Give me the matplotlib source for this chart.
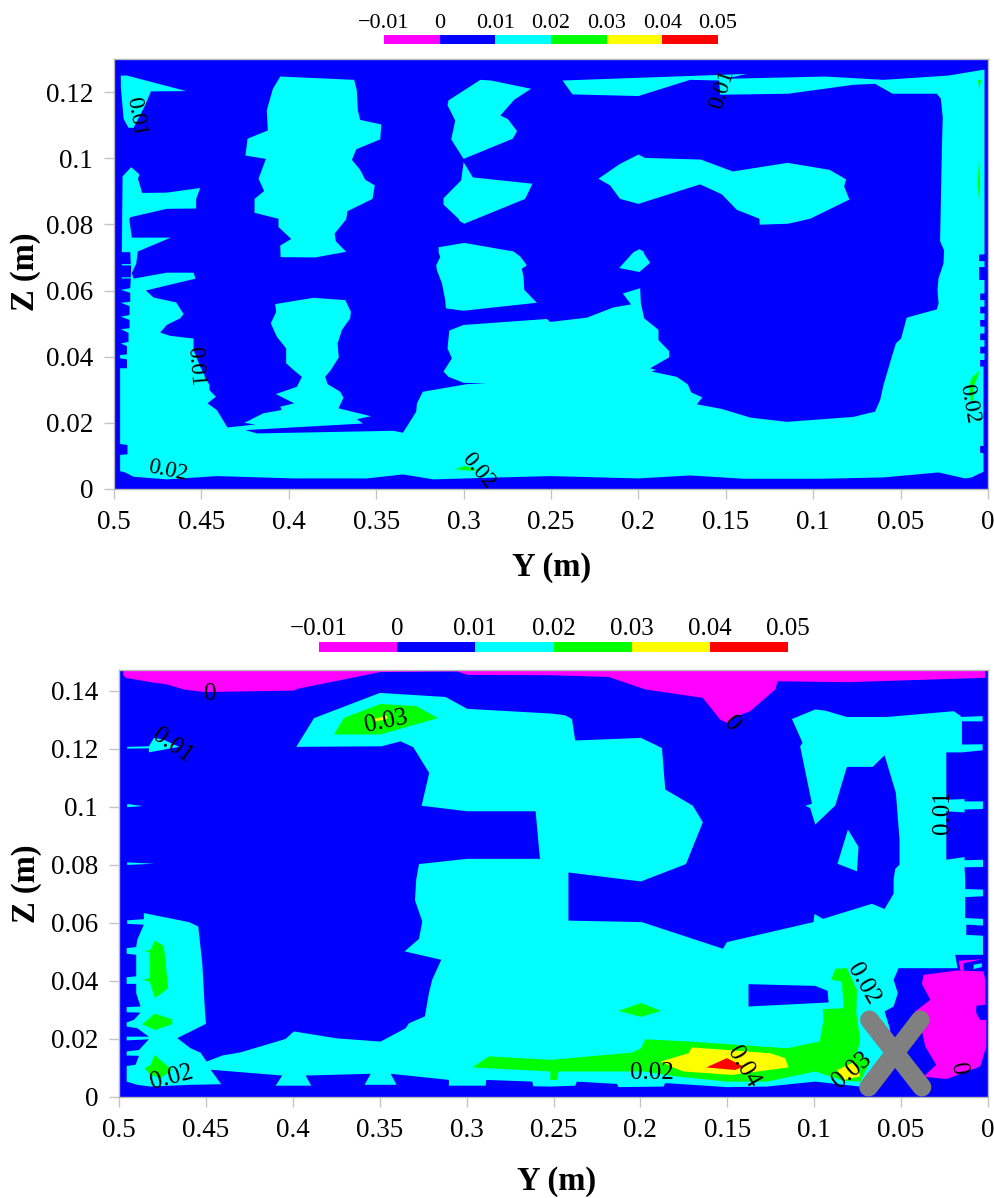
import numpy as np
import matplotlib
matplotlib.use('Agg')
import matplotlib.pyplot as plt
from matplotlib.colors import ListedColormap, BoundaryNorm

plt.rcParams['font.family'] = ['Liberation Serif', 'DejaVu Sans']

levels = [-0.01, 0, 0.01, 0.02, 0.03, 0.04, 0.05]
level_labels = ['\u22120.01', '0', '0.01', '0.02', '0.03', '0.04', '0.05']
band_values = [-0.005, 0.005, 0.015, 0.025, 0.035, 0.045]
colors = ['#ff00ff', '#0000ff', '#00ffff', '#00ff00', '#ffff00', '#ff0000']
MAGENTA, BLUE, CYAN, GREEN, YELLOW, RED = colors

y_ticks = [0.5, 0.45, 0.4, 0.35, 0.3, 0.25, 0.2, 0.15, 0.1, 0.05, 0]
y_tick_labels = ['0.5', '0.45', '0.4', '0.35', '0.3', '0.25', '0.2', '0.15', '0.1', '0.05', '0']
z_ticks_top = [0, 0.02, 0.04, 0.06, 0.08, 0.1, 0.12]
z_labels_top = ['0', '0.02', '0.04', '0.06', '0.08', '0.1', '0.12']
z_ticks_bot = [0, 0.02, 0.04, 0.06, 0.08, 0.1, 0.12, 0.14]
z_labels_bot = ['0', '0.02', '0.04', '0.06', '0.08', '0.1', '0.12', '0.14']

# ---- top plot, contour bands as (Y, Z) outlines
top_corner = [(.4961,.125),(.4926,.125),(.4587,.1203),(.4789,.1202),(.4822,.116),(.4888,.1092),(.4917,.1092),(.4945,.1119),(.4961,.1215)]

top_main = [(.4951,.0945),(.4902,.0973),(.4854,.0951),(.4863,.0938),(.4839,.0895),(.4698,.0896),(.4507,.091),(.453,.0877),(.453,.0848),
    (.4698,.0847),(.4904,.0822),(.4913,.0817),(.4898,.076),(.4675,.076),(.4864,.0718),(.4873,.0681),(.4898,.0653),(.4888,.0636),
    (.4698,.0654),(.4545,.0654),(.4534,.0636),(.4818,.06),(.4774,.0579),(.4644,.0564),(.4602,.0529),(.4621,.0516),(.4698,.0496),
    (.4736,.0473),(.4679,.0463),(.4545,.0455),(.4545,.042),(.4507,.037),(.4454,.0314),(.4454,.0299),(.4417,.0279),(.4465,.0259),
    (.4412,.0239),(.4351,.0186),(.4192,.0195),(.4255,.02),(.4145,.0229),(.404,.0239),(.4049,.0249),(.3969,.0259),(.4074,.0287),
    (.3954,.0309),(.3925,.0339),(.3973,.036),(.4015,.038),(.4015,.0425),(.4068,.046),(.4103,.0501),(.4072,.0536),(.4078,.0559),
    (.3859,.0578),(.3677,.0571),(.3645,.0536),(.3649,.0516),(.3696,.0481),(.3721,.044),(.3714,.0398),(.3759,.036),(.3792,.0339),
    (.3778,.0317),(.3706,.0294),(.3687,.0276),(.3702,.0259),(.3716,.0244),(.353,.022),(.3611,.0211),(.3576,.0198),(.4248,.0178),
    (.4183,.0168),(.3401,.0176),(.3347,.017),(.3271,.0234),(.3267,.0259),(.3233,.0294),(.2981,.0317),(.2871,.0319),(.3,.0321),
    (.3086,.0339),(.3115,.0355),(.3067,.0395),(.3092,.0425),(.3082,.0479),(.3,.0496),(.2524,.0514),(.2505,.0505),(.2295,.0518),
    (.2143,.0549),(.2042,.0558),(.2089,.0591),(.199,.0607),(.1986,.0561),(.1967,.0516),(.1885,.0481),(.1885,.045),(.1824,.0417),
    (.1824,.0398),(.1933,.0365),(.1899,.036),(.1923,.0355),(.178,.0339),(.1717,.0316),(.1698,.0292),(.1634,.0277),(.1666,.0256),
    (.1523,.0242),(.1361,.0216),(.1151,.0203),(.077,.0218),(.0646,.0234),(.0617,.0269),(.0598,.0314),(.0556,.039),(.0527,.044),
    (.0497,.0455),(.0465,.0518),(.0293,.0543),(.0283,.0561),(.0289,.0602),(.0283,.0637),(.0255,.0681),(.0251,.0721),(.0274,.0749),
    (.0264,.1024),(.0259,.1124),(.027,.118),(.0293,.1195),(.0546,.1195),(.0646,.1225),(.077,.1222),(.1142,.1195),(.1532,.1192),
    (.1538,.1235),(.1704,.1237),(.2,.1188),(.2377,.1193),(.2434,.1235),(.1475,.1253),(.138,.1255),(.1504,.124),(.0932,.1247),
    (.0598,.1237),(.0226,.125),(.002,.1268),(.002,.0709),(.0051,.0709),(.0051,.0689),(.002,.0689),(.002,.0671),(.0051,.0671),
    (.0051,.0632),(.002,.0632),(.002,.0591),(.0045,.0591),(.0045,.0571),(.002,.0571),(.002,.0551),(.0045,.0551),(.0045,.0531),
    (.002,.0531),(.002,.0511),(.0045,.0511),(.0045,.0491),(.002,.0491),(.002,.047),(.0045,.047),(.0045,.045),(.002,.045),(.002,.043),
    (.0045,.043),(.0045,.041),(.002,.041),(.002,.039),(.0045,.039),(.0045,.037),(.0026,.037),(.0026,.013),(.0045,.013),(.0045,.011),
    (.0026,.0108),(.0026,.0052),(.0055,.0045),(.0093,.0035),(.0131,.0032),(.0283,.005),(.0598,.0035),(.0951,.0031),(.1399,.0031),
    (.1704,.0041),(.2,.0032),(.2505,.0039),(.2791,.0035),(.3172,.0029),(.3347,.0044),(.3553,.0032),(.3973,.0032),(.4412,.0039),
    (.4698,.0029),(.4888,.0037),(.4936,.005),(.4965,.0054),(.4965,.0103),(.4923,.0105),(.4923,.0133),(.4965,.0136),(.4965,.0365),
    (.4926,.0365),(.4926,.0392),(.4965,.0395),(.4965,.0405),(.4926,.0407),(.4926,.0432),(.4961,.044),(.4917,.0445),(.4917,.0472),
    (.4961,.0483),(.4911,.0486),(.4911,.0511),(.4961,.0521),(.4911,.0526),(.4911,.0553),(.4961,.0563),(.4907,.0566),(.4907,.0593),
    (.4961,.0602),(.4907,.0607),(.4904,.0637),(.4955,.0636),(.4955,.064),(.4904,.064),(.4902,.0676),(.4955,.0676),(.4955,.068),
    (.4904,.068),(.4907,.0716),(.4955,.0716)]

top_blob_a = [(.4049,.1247),(.3626,.1237),(.3611,.1205),(.3605,.1145),(.3592,.1116),(.3471,.1102),(.3477,.1057),(.3614,.1027),(.3639,.0995),
    (.3592,.0965),(.3563,.0935),(.3508,.0918),(.3521,.0877),(.3664,.084),(.3672,.0815),(.3738,.0772),(.3731,.0749),(.3672,.0717),
    (.3849,.07),(.4047,.0701),(.4049,.0736),(.3986,.0756),(.4059,.0792),(.4059,.0817),(.4196,.0835),(.4196,.0877),(.4141,.0901),
    (.4173,.0938),(.4131,.0998),(.4248,.1008),(.4236,.1059),(.412,.1084),(.4126,.1145),(.4091,.121)]
top_blob_b = [(.2904,.1237),(.2843,.1235),(.2614,.121),(.271,.1177),(.279,.1129),(.2748,.1119),(.2694,.1082),(.2719,.1059),(.3,.0998),
    (.3071,.1057),(.3048,.1114),(.3092,.116),(.3086,.1175)]
top_blob_c = [(.3,.0988),(.2947,.0942),(.2606,.0923),(.2648,.0877),(.2996,.0802),(.3023,.081),(.3029,.0817),(.3115,.086),(.3115,.0879),(.3014,.0933)]
top_blob_d = [(.3143,.0731),(.2996,.0744),(.2714,.0718),(.2676,.0703),(.2638,.0676),(.2667,.0666),(.2657,.0641),(.2653,.0602),(.2581,.0563),
    (.3,.0539),(.3101,.0546),(.3105,.0571),(.3124,.0622),(.3153,.0662),(.3157,.0676),(.3134,.0701),(.3143,.0716)]
top_blob_e = [(.2229,.0938),(.2105,.0983),(.2,.1011),(.1962,.1001),(.1643,.0996),(.146,.096),(.1147,.0986),(.0907,.0965),(.0812,.0936),
    (.0823,.0915),(.0793,.0875),(.1018,.0817),(.1142,.0802),(.1307,.0799),(.1307,.0817),(.1437,.0844),(.1523,.0891),(.1647,.0921),
    (.2,.0862),(.2105,.0877),(.2162,.0918)]
top_blob_f = [(.211,.0668),(.2028,.0716),(.1994,.0725),(.1971,.0718),(.1965,.0709),(.1933,.0684),(.1994,.0656)]

top_green_a = [(.0058,.1237),(.0041,.1237),(.0049,.1205)]
top_green_b = [(.0051,.0998),(.0045,.0923),(.0051,.0872),(.006,.0923)]
top_green_c = [(.0049,.0357),(.0093,.0337),(.0106,.0314),(.0098,.0264),(.0087,.0264),(.0079,.0314),(.0058,.0341)]
top_green_d = [(.3048,.006),(.2991,.007),(.2915,.0057),(.2962,.0055)]

top_labels = [('0.01', .4873, .1126, -80), ('0.01', .1522, .1208, 72), ('0.01', .4536, .0371, -85),
              ('0.02', .469, .0054, -12), ('0.02', .2917, .0054, -50), ('0.02', .0109, .0257, -80)]

# ---- bottom plot
bot_roof = [(.4976,.1476),(.4976,.1456),(.4962,.1445),(.4818,.143),(.4722,.1422),(.4627,.1405),(.4511,.1396),(.3994,.1401),(.3974,.1407),
    (.3495,.1465),(.3054,.1467),(.2996,.1455),(.2517,.1454),(.2183,.1448),(.1972,.1405),(.1641,.1376),(.1541,.1301),(.1493,.1287),
    (.1468,.1307),(.1368,.133),(.1224,.1405),(.1211,.1433),(.0812,.143),(.0016,.1445),(.0016,.1476)]

bot_main = [(.398,.1207),(.3878,.1306),(.3499,.1393),(.3121,.1379),(.2996,.1338),(.2517,.1322),(.2433,.1316),(.2394,.1303),(.2375,.1229),
    (.1997,.1238),(.1876,.1203),(.1857,.106),(.1698,.1004),(.1641,.0947),(.1738,.0803),(.1997,.0743),(.2414,.0774),(.2414,.0608),
    (.1992,.0603),(.1525,.0511),(.1502,.0534),(.1004,.0603),(.0998,.0631),(.095,.0614),(.0668,.0666),(.0595,.0648),(.0543,.0701),
    (.0543,.0749),(.0534,.0786),(.0509,.0801),(.0509,.0887),(.053,.1048),(.0595,.1178),(.0664,.1138),(.0812,.1138),(.0879,.1005),
    (.0994,.0939),(.1023,.0996),(.1052,.1004),(.1013,.1011),(.1081,.1209),(.1067,.1221),(.1128,.1303),(.0994,.1336),(.0937,.1332),
    (.0812,.131),(.0582,.131),(.0198,.133),(.016,.1315),(.0154,.131),(.0031,.1313),(.0031,.1295),(.015,.1295),(.015,.1215),(.0031,.1216),
    (.0031,.1195),(.015,.1188),(.024,.1188),(.024,.1025),(.0135,.1027),(.0135,.1019),(.0029,.1019),(.0029,.0993),(.0135,.0991),
    (.0135,.0981),(.024,.0985),(.024,.0818),(.0135,.0827),(.0135,.0816),(.0029,.0818),(.0029,.0793),(.0135,.0792),(.0131,.0749),
    (.0131,.0717),(.0029,.0715),(.0029,.0692),(.0131,.0689),(.0131,.0617),(.0029,.0614),(.0029,.0591),(.0125,.0594),(.0125,.0559),
    (.0029,.0556),(.0029,.049),(.0189,.049),(.0175,.0444),(.0515,.0444),(.0543,.0404),(.0519,.0358),(.0543,.0312),(.0595,.0295),
    (.0563,.0232),(.0563,.0174),(.0601,.0059),(.0697,.0036),(.0735,.0036),(.0994,.0053),(.1272,.0036),(.1502,.0034),(.1857,.0048),
    (.1867,.0036),(.2126,.0034),(.2135,.0045),(.2366,.0053),(.2375,.0039),(.2519,.0036),(.2616,.0037),(.2622,.0053),(.2887,.0059),
    (.2891,.0039),(.3102,.0039),(.3102,.0059),(.3437,.008),(.3403,.0042),(.3587,.0042),(.3552,.008),(.3926,.0074),(.3894,.0039),
    (.4099,.0039),(.4061,.0074),(.4473,.0094),(.4412,.0044),(.4588,.0042),(.4818,.0036),(.4895,.0042),(.4956,.0053),(.4956,.0107),
    (.4905,.0111),(.4885,.0142),(.4956,.0143),(.4956,.0157),(.4885,.0162),(.4828,.0199),(.4956,.0195),(.4956,.0208),(.4828,.0208),
    (.4895,.0237),(.4956,.0243),(.4956,.0257),(.4914,.0266),(.4876,.0291),(.4956,.0292),(.4956,.031),(.4876,.0312),(.4901,.0358),
    (.4901,.039),(.4956,.039),(.4956,.0413),(.4901,.0416),(.4901,.049),(.4956,.0494),(.4956,.0513),(.4901,.0517),(.4895,.0542),
    (.4857,.0594),(.4953,.0597),(.4953,.0609),(.4857,.0613),(.4857,.0634),(.4598,.0603),(.4544,.0588),(.4521,.0461),(.4506,.0301),
    (.45,.0252),(.4665,.0203),(.4588,.0168),(.4531,.0153),(.4496,.0122),(.4406,.0143),(.43,.0154),(.4042,.02),(.3994,.0226),
    (.3744,.0202),(.3495,.0191),(.3351,.0237),(.3332,.0254),(.324,.0278),(.3217,.0358),(.3198,.0404),(.3146,.0473),(.3357,.0502),
    (.3274,.0545),(.3255,.0605),(.3297,.0678),(.329,.0749),(.3274,.0803),(.2996,.0821),(.2578,.0821),(.2603,.0985),(.2996,.0985),
    (.3259,.1004),(.3215,.1117),(.3307,.1206),(.338,.1226),(.3489,.1209)]

bot_hole = [(.1378,.0389),(.0994,.0383),(.0923,.0366),(.0917,.0326),(.1378,.0312)]
bot_sliver = [(.0806,.0922),(.0745,.0862),(.0754,.0778),(.0866,.0804)]
bot_tuft = [(.4953,.1207),(.4828,.1209),(.4799,.1238),(.4745,.1232),(.4655,.1207),(.4828,.1188),(.4828,.1202),(.4953,.1201)]
bot_spike_a = [(.4953,.101),(.486,.1003),(.4953,.0999)]
bot_spike_b = [(.4953,.0809),(.4799,.0804),(.4953,.08)]
bot_chip = [(.0083,.0456),(.0035,.0461),(.0035,.0448),(.0083,.0441)]

bot_green_a = [(.3763,.125),(.3706,.1307),(.3495,.1355),(.3288,.1347),(.3165,.1306),(.3495,.125)]
bot_green_b = [(.4853,.0502),(.4818,.0508),(.4795,.0539),(.4742,.0521),(.4717,.0375),(.4793,.0341),(.4824,.0398),(.4862,.0404),(.4824,.041),(.4824,.0498)]
bot_green_c = [(.4866,.0251),(.4795,.0287),(.4694,.0268),(.4694,.0251),(.4793,.0231)]
bot_green_d = [(.4853,.0099),(.4818,.0111),(.4795,.0145),(.4694,.0093),(.4761,.0065),(.4818,.0076)]
bot_green_e = [(.2126,.0297),(.1997,.0324),(.1882,.0297),(.1997,.0276)]
bot_green_main = [(.2967,.0102),(.2872,.014),(.2517,.0128),(.2049,.0153),(.1997,.0168),(.1972,.0199),(.1713,.0191),(.1157,.0168),(.0969,.0191),
    (.0946,.0266),(.095,.0303),(.0831,.0306),(.0841,.0398),(.0902,.0404),(.0879,.0442),(.0812,.0444),(.0754,.0369),(.0758,.0289),
    (.0735,.0197),(.0754,.0151),(.0678,.0122),(.0735,.0053),(.0831,.0056),(.0994,.0088),(.1272,.0053),(.1502,.0053),(.179,.0071),
    (.1982,.0088),(.2471,.0088),(.2481,.0059),(.2519,.0059),(.2517,.0088)]
bot_yellow_a = [(.1886,.0122),(.1723,.0151),(.1704,.0171),(.1253,.0151),(.1167,.0134),(.1148,.0102),(.1474,.0076),(.1752,.0088),(.18,.0099)]
bot_yellow_b = [(.0869,.0093),(.0764,.0122),(.0735,.0071),(.0831,.0059)]
bot_yellow_c = [(.3533,.1303),(.3457,.1315),(.3457,.1303),(.3524,.1295)]
bot_red = [(.1621,.0102),(.1502,.0134),(.1407,.0105),(.1455,.0093)]
bot_pink = [(.0371,.0421),(.0179,.0436),(.0026,.0433),(.0016,.0404),(.0016,.0318),(.0068,.0314),(.0068,.0289),(.0045,.0266),(.001,.0266),
    (.001,.0174),(.0045,.0105),(.0237,.0062),(.0371,.007),(.0298,.0111),(.0361,.0174),(.039,.0254),(.0419,.0295),(.0332,.0335),(.038,.039)]
bot_pink_wedge = [(.0169,.047),(.0031,.0475),(.0141,.0461),(.0141,.0427),(.016,.0439)]

cross_y = [[.0682, .038], [.039, .0687]]
cross_z = [[.0266, .0034], [.0266, .0034]]

bot_labels = [('0', .4474, .139, 0), ('0.01', .4692, .1211, -35), ('0.03', .3462, .1294, 12), ('0', .1478, .1287, -50),
              ('0.01', .0259, .0983, 90), ('0.02', .4698, .0066, 15), ('0.02', .1932, .0083, 0), ('0.04', .1409, .0104, -60),
              ('0.03', .0782, .0093, 40), ('0.02', .0719, .039, -60), ('0', .0173, .0097, -80)]

top_bands = [(top_main, CYAN), (top_corner, CYAN), (top_blob_a, CYAN), (top_blob_b, CYAN), (top_blob_c, CYAN),
             (top_blob_d, CYAN), (top_blob_e, CYAN), (top_blob_f, CYAN), (top_green_a, GREEN), (top_green_b, GREEN),
             (top_green_c, GREEN), (top_green_d, GREEN)]
bot_bands = [(bot_roof, MAGENTA), (bot_main, CYAN), (bot_hole, BLUE), (bot_sliver, CYAN), (bot_tuft, CYAN),
             (bot_spike_a, CYAN), (bot_spike_b, CYAN), (bot_pink, MAGENTA), (bot_pink_wedge, MAGENTA), (bot_chip, CYAN),
             (bot_green_a, GREEN), (bot_green_b, GREEN), (bot_green_c, GREEN), (bot_green_d, GREEN), (bot_green_e, GREEN),
             (bot_green_main, GREEN), (bot_yellow_a, YELLOW), (bot_yellow_b, YELLOW), (bot_yellow_c, YELLOW), (bot_red, RED)]

W, H = 994, 1198
fig = plt.figure(figsize=(W / 100, H / 100), dpi=100)


def panel(box, zmax, zticks, zlabels, bands, labels, label_size, xlab_at, zlab_at):
    x0, y0, x1, y1 = box
    ax = fig.add_axes([x0 / W, 1 - y1 / H, (x1 - x0) / W, (y1 - y0) / H])
    ax.set_facecolor(BLUE)
    for poly, col in bands:
        ys, zs = zip(*poly)
        ax.fill(ys, zs, color=col, lw=0)
    for txt, yy, zz, rot in labels:
        ax.text(yy, zz, txt, fontsize=label_size, rotation=rot, ha='center', va='center',
                rotation_mode='anchor', color='black')
    ax.set_xlim(0.5, 0)
    ax.set_ylim(0, zmax)
    ax.set_xticks(y_ticks)
    ax.set_xticklabels(y_tick_labels)
    ax.set_yticks(zticks)
    ax.set_yticklabels(zlabels)
    ax.tick_params(length=7, width=1, color='#c4c4c4', labelsize=19.5, labelcolor='black')
    ax.tick_params(axis='x', pad=8)
    ax.tick_params(axis='y', pad=8)
    for s in ax.spines.values():
        s.set_color('#b8b8b8')
        s.set_linewidth(1)
    ax.set_xlabel('Y (m)', fontsize=23.5, fontweight='bold', va='center')
    ax.set_ylabel('Z (m)', fontsize=23.5, fontweight='bold', va='center')
    ax.xaxis.set_label_coords(*xlab_at)
    ax.yaxis.set_label_coords(*zlab_at)
    return ax


def color_key(box, size):
    x0, y0, x1, y1 = box
    cax = fig.add_axes([x0 / W, 1 - y1 / H, (x1 - x0) / W, (y1 - y0) / H])
    norm = BoundaryNorm(levels, len(colors))
    cax.pcolormesh(levels, [0, 1], [band_values], cmap=ListedColormap(colors), norm=norm)
    cax.set_yticks([])
    cax.set_xticks(levels)
    cax.set_xticklabels(level_labels)
    cax.xaxis.tick_top()
    cax.tick_params(length=0, labelsize=size, pad=1.5)
    for s in cax.spines.values():
        s.set_visible(False)


ax_top = panel((114, 59, 988, 489), 0.13, z_ticks_top, z_labels_top, top_bands, top_labels, 16.5,
               (0.501, -0.182), (-0.1007, 0.505))
ax_bot = panel((119, 670, 988, 1097), 0.1472, z_ticks_bot, z_labels_bot, bot_bands, bot_labels, 18,
               (0.504, -0.199), (-0.107, 0.499))

for cy, cz in zip(cross_y, cross_z):
    ax_bot.plot(cy, cz, color='#808080', lw=13.5, solid_capstyle='round', zorder=5)

color_key((384, 35, 718, 44), 16)
color_key((319, 642, 788, 652), 18)

fig.savefig('out.png', dpi=100)
